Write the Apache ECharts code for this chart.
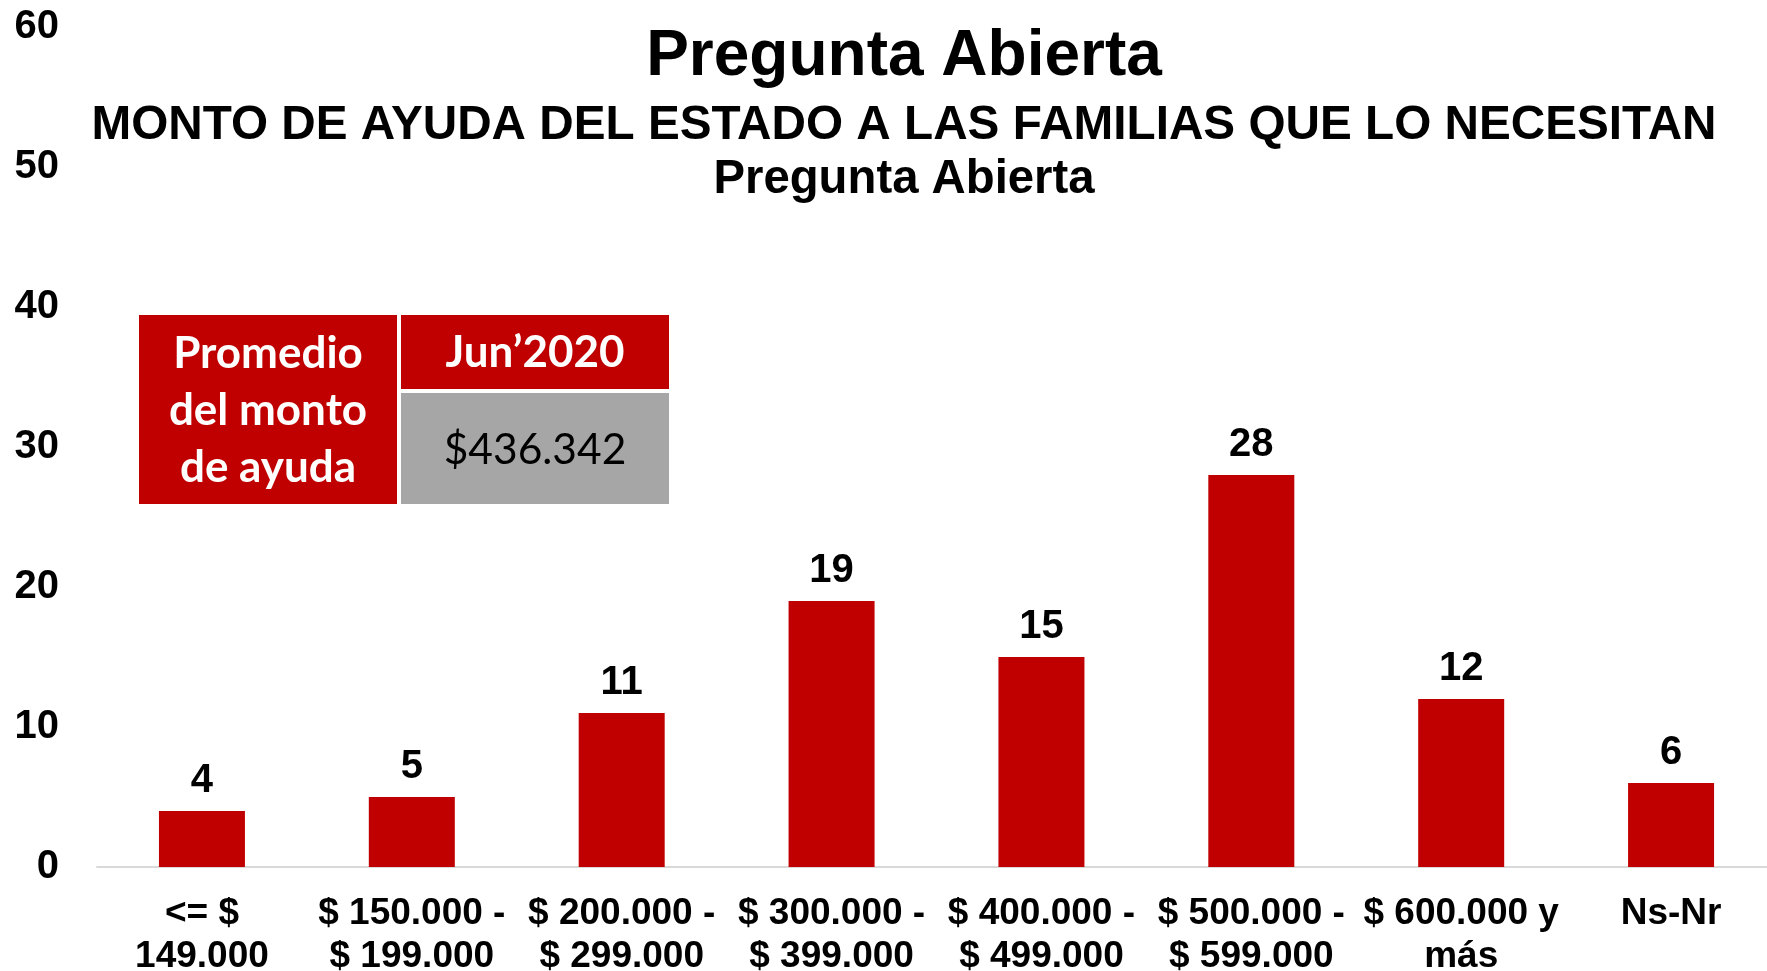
<!DOCTYPE html>
<html>
<head>
<meta charset="utf-8">
<title>Monto de ayuda del Estado</title>
<script src="https://cdn.jsdelivr.net/npm/echarts@6/dist/echarts.min.js"></script>
<style>
  html, body { margin: 0; padding: 0; background: #ffffff; }
  #histogram { width: 1767px; height: 971px; }
</style>
</head>
<body>
<div id="histogram"></div>
<script>
(function(){

    var categories = ['<= $\n149.000', '$ 150.000 -\n$ 199.000', '$ 200.000 -\n$ 299.000',
                      '$ 300.000 -\n$ 399.000', '$ 400.000 -\n$ 499.000', '$ 500.000 -\n$ 599.000',
                      '$ 600.000 y\nmás', 'Ns-Nr'];
    var values = [4, 5, 11, 19, 15, 28, 12, 6];
    var yTicks = [0, 10, 20, 30, 40, 50, 60];

    var tableHead = ['Promedio\ndel monto\nde ayuda', 'Jun’2020'];
    var tableValue = '$436.342';

    var arial = 'Arial, "Liberation Sans", sans-serif';
    var calibri = 'Lato, "Open Sans", sans-serif';
    var red = '#c00000';

    var option = {
        backgroundColor : '#ffffff',
        animation : false,
        grid : {
            left : 97,
            right : -9,
            top : 27,
            bottom : 104,
            containLabel : false,
            outerBoundsMode : 'none'
        },
        xAxis : {
            type : 'category',
            data : categories,
            axisTick : { show : false },
            axisLine : {
                show : true,
                lineStyle : { color : '#d9d9d9', width : 2 }
            },
            axisLabel : {
                interval : 0,
                margin : 25,
                color : '#000000',
                fontFamily : arial,
                fontWeight : 'bold',
                fontSize : 37,
                lineHeight : 43
            },
            splitLine : { show : false }
        },
        yAxis : {
            type : 'value',
            min : yTicks[0],
            max : yTicks[yTicks.length - 1],
            interval : 10,
            axisLine : { show : false },
            axisTick : { show : false },
            splitLine : { show : false },
            axisLabel : {
                margin : 38,
                color : '#000000',
                fontFamily : arial,
                fontWeight : 'bold',
                fontSize : 40
            }
        },
        series : [
            {
                type : 'bar',
                data : values,
                barWidth : 86,
                itemStyle : { color : red },
                label : {
                    show : true,
                    position : 'top',
                    distance : 10,
                    color : '#000000',
                    fontFamily : arial,
                    fontWeight : 'bold',
                    fontSize : 40
                }
            }
        ],
        graphic : [
            {
                type : 'text', x : 904, y : 57,
                style : { text : 'Pregunta Abierta', font : 'bold 64px ' + arial,
                          fill : '#000', align : 'center', verticalAlign : 'middle' }
            },
            {
                type : 'text', x : 904, y : 126,
                style : { text : 'MONTO DE AYUDA DEL ESTADO A LAS FAMILIAS QUE LO NECESITAN',
                          font : 'bold 47.7px ' + arial, fill : '#000', align : 'center', verticalAlign : 'middle' }
            },
            {
                type : 'text', x : 904, y : 180,
                style : { text : 'Pregunta Abierta', font : 'bold 47.3px ' + arial,
                          fill : '#000', align : 'center', verticalAlign : 'middle' }
            },
            // tabla del promedio
            {
                type : 'rect', shape : { x : 139, y : 315, width : 258, height : 189 },
                style : { fill : red }
            },
            {
                type : 'rect', shape : { x : 401, y : 315, width : 268, height : 74 },
                style : { fill : red }
            },
            {
                type : 'rect', shape : { x : 401, y : 393, width : 268, height : 111 },
                style : { fill : '#a6a6a6' }
            },
            {
                type : 'text', x : 268, y : 411,
                style : { text : tableHead[0], font : 'bold 44px ' + calibri, lineHeight : 57,
                          fill : '#ffffff', align : 'center', verticalAlign : 'middle' }
            },
            {
                type : 'text', x : 535, y : 353,
                style : { text : tableHead[1], font : 'bold 44px ' + calibri,
                          fill : '#ffffff', align : 'center', verticalAlign : 'middle' }
            },
            {
                type : 'text', x : 535, y : 450,
                style : { text : tableValue, font : '42.5px ' + calibri,
                          fill : '#000000', align : 'center', verticalAlign : 'middle' }
            }
        ]
    };

    var myChart = echarts.init(document.getElementById('histogram'));
    myChart.setOption(option);

})();
</script>
</body>
</html>
